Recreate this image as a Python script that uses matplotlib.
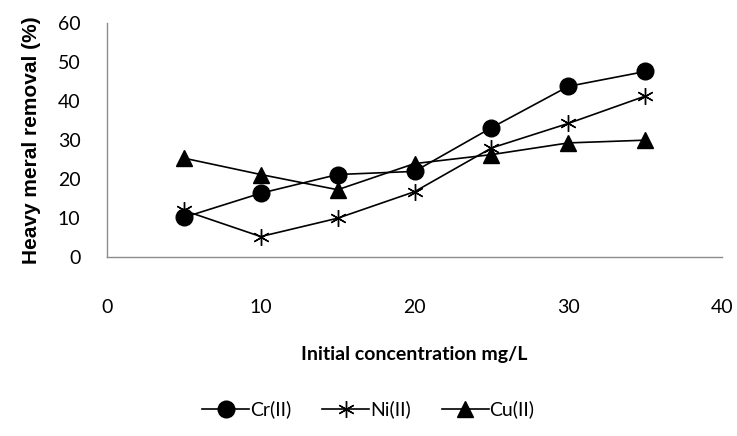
import matplotlib
matplotlib.use("Agg")
import matplotlib.pyplot as plt

conc = [5, 10, 15, 20, 25, 30, 35]
cr = [10.2, 16.4, 21.2, 22.0, 33.2, 43.8, 47.6]
ni = [12.0, 5.3, 10.0, 16.8, 28.0, 34.3, 41.3]
cu = [25.4, 21.2, 17.3, 24.0, 26.3, 29.3, 30.0]

x_ticks = [0, 10, 20, 30, 40]
y_ticks = [0, 10, 20, 30, 40, 50, 60]

fig = plt.figure(figsize=(7.37, 4.36), dpi=100)
ax = fig.add_axes([0.145, 0.41, 0.835, 0.537])

ax.plot(conc, cr, color="black", lw=1.2, marker="o", ms=12, label="Cr(II)")
ax.plot(conc, ni, color="black", lw=1.2, marker=(6, 2, 0), ms=12, mew=1.0, label="Ni(II)")
ax.plot(conc, cu, color="black", lw=1.2, marker="^", ms=12, label="Cu(II)")

ax.set_xlim(0, 40)
ax.set_ylim(0, 60)
ax.set_xticks(x_ticks)
ax.set_yticks(y_ticks)
for s in ["top", "right"]:
    ax.spines[s].set_visible(False)
for s in ["left", "bottom"]:
    ax.spines[s].set_color("#8c8c8c")
    ax.spines[s].set_linewidth(1.0)
ax.tick_params(length=0, labelsize=14)
ax.tick_params(axis="x", pad=30)
ax.tick_params(axis="y", pad=19)
for lab in ax.get_xticklabels() + ax.get_yticklabels():
    lab.set_fontfamily("Lato")

ax.set_xlabel("Initial concentration mg/L", fontsize=14, fontweight="bold",
              family="Lato", labelpad=22)
ax.set_ylabel("Heavy meral removal (%)", fontsize=15, fontweight="bold",
              family="Liberation Sans", labelpad=12)

fig.legend(loc="lower center", bbox_to_anchor=(0.5, 0.0), ncol=3, frameon=False,
           prop={"family": "Lato", "size": 14}, handlelength=2.4, markerscale=1.0,
           columnspacing=1.6, handletextpad=0.05)

fig.savefig("out.png", dpi=100)
